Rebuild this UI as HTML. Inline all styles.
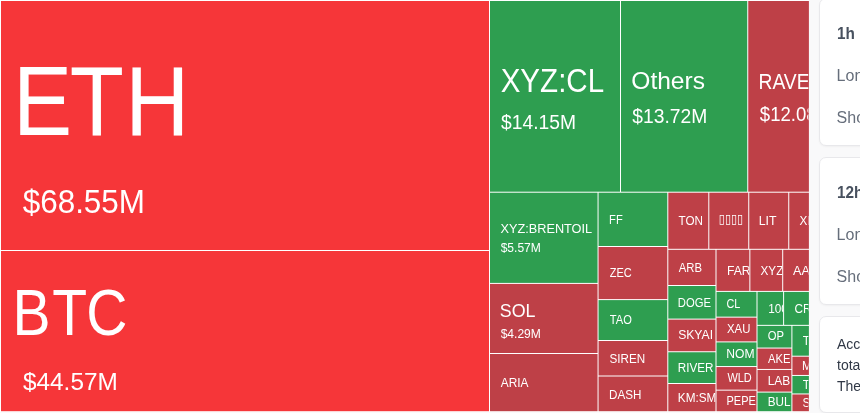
<!DOCTYPE html>
<html lang="en"><head><meta charset="utf-8"><title>Liquidation Heatmap</title>
<style>
html,body{margin:0;padding:0}
body{width:860px;height:413px;overflow:hidden;background:#f9f9fa;position:relative;font-family:'Liberation Sans', sans-serif}
.card{position:absolute;left:819px;width:60px;background:#fff;border:1px solid #e8e8eb;box-shadow:0 1px 2px rgba(0,0,0,.04);border-radius:7px;box-sizing:border-box;overflow:hidden}
.card div{position:absolute;left:16.6px;white-space:nowrap;transform-origin:0 50%}
.t{font-size:17px;line-height:24px;font-weight:700;color:#48515f;transform:scaleX(.9)}
.r{font-size:16px;line-height:24px;color:#666e7b}
.p{left:17px !important;top:16.6px;font-size:14px;line-height:21px;color:#303846}
#stage{position:absolute;left:0;top:0;width:860px;height:413px;will-change:transform}
</style></head><body>
<div id="stage">
<svg width="860" height="413" viewBox="0 0 860 413" style="position:absolute;left:0;top:0">
<defs>
<clipPath id="cETH"><rect x="1.00" y="1.00" width="488.00" height="249.00"/></clipPath>
<clipPath id="cBTC"><rect x="1.00" y="251.00" width="488.00" height="160.20"/></clipPath>
<clipPath id="cXYZCL"><rect x="490.00" y="1.00" width="130.00" height="190.70"/></clipPath>
<clipPath id="cOthers"><rect x="621.00" y="1.00" width="126.25" height="190.70"/></clipPath>
<clipPath id="cRAVE"><rect x="748.25" y="1.00" width="60.15" height="190.70"/></clipPath>
<clipPath id="cBRENT"><rect x="490.00" y="192.70" width="107.55" height="90.20"/></clipPath>
<clipPath id="cSOL"><rect x="490.00" y="283.90" width="107.55" height="69.10"/></clipPath>
<clipPath id="cARIA"><rect x="490.00" y="354.00" width="107.55" height="57.20"/></clipPath>
<clipPath id="cFF"><rect x="598.55" y="192.70" width="68.75" height="53.30"/></clipPath>
<clipPath id="cZEC"><rect x="598.55" y="247.00" width="68.75" height="52.10"/></clipPath>
<clipPath id="cTAO"><rect x="598.55" y="300.10" width="68.75" height="39.90"/></clipPath>
<clipPath id="cSIREN"><rect x="598.55" y="341.00" width="68.75" height="34.50"/></clipPath>
<clipPath id="cDASH"><rect x="598.55" y="376.50" width="68.75" height="34.70"/></clipPath>
<clipPath id="cTON"><rect x="668.30" y="192.70" width="40.00" height="56.10"/></clipPath>
<clipPath id="cTOFU"><rect x="709.30" y="192.70" width="38.95" height="56.10"/></clipPath>
<clipPath id="cLIT"><rect x="749.25" y="192.70" width="39.00" height="56.10"/></clipPath>
<clipPath id="cXRP"><rect x="789.25" y="192.70" width="19.15" height="56.10"/></clipPath>
<clipPath id="cARB"><rect x="668.30" y="249.80" width="47.20" height="35.20"/></clipPath>
<clipPath id="cFART"><rect x="716.50" y="249.80" width="32.85" height="41.10"/></clipPath>
<clipPath id="cXYZ2"><rect x="750.35" y="249.80" width="31.85" height="41.10"/></clipPath>
<clipPath id="cAAVE"><rect x="783.20" y="249.80" width="25.20" height="41.10"/></clipPath>
<clipPath id="cDOGE"><rect x="668.30" y="286.00" width="47.20" height="32.60"/></clipPath>
<clipPath id="cSKYAI"><rect x="668.30" y="319.60" width="47.20" height="31.65"/></clipPath>
<clipPath id="cRIVER"><rect x="668.30" y="352.25" width="47.20" height="30.75"/></clipPath>
<clipPath id="cKM"><rect x="668.30" y="384.00" width="47.20" height="27.20"/></clipPath>
<clipPath id="cCL"><rect x="716.50" y="291.90" width="40.00" height="24.75"/></clipPath>
<clipPath id="cXAU"><rect x="716.50" y="317.65" width="40.00" height="23.75"/></clipPath>
<clipPath id="cNOM"><rect x="716.50" y="342.40" width="40.00" height="23.65"/></clipPath>
<clipPath id="cWLD"><rect x="716.50" y="367.05" width="40.00" height="22.60"/></clipPath>
<clipPath id="cPEPE"><rect x="716.50" y="390.65" width="40.00" height="20.55"/></clipPath>
<clipPath id="cK1000"><rect x="757.50" y="291.90" width="25.60" height="32.95"/></clipPath>
<clipPath id="cCRV"><rect x="784.10" y="291.90" width="24.30" height="32.95"/></clipPath>
<clipPath id="cOP"><rect x="757.50" y="325.85" width="33.90" height="21.70"/></clipPath>
<clipPath id="cAKE"><rect x="757.50" y="348.55" width="33.90" height="20.40"/></clipPath>
<clipPath id="cLAB"><rect x="757.50" y="369.95" width="33.90" height="21.65"/></clipPath>
<clipPath id="cBUL"><rect x="757.50" y="392.60" width="33.90" height="18.60"/></clipPath>
<clipPath id="cT1"><rect x="792.40" y="325.85" width="16.00" height="29.85"/></clipPath>
<clipPath id="cM"><rect x="792.40" y="356.70" width="16.00" height="18.25"/></clipPath>
<clipPath id="cT2"><rect x="792.40" y="375.95" width="16.00" height="17.50"/></clipPath>
<clipPath id="cS"><rect x="792.40" y="394.45" width="16.00" height="16.75"/></clipPath>
</defs>
<rect x="0" y="0" width="808.90" height="412.20" fill="#fff"/>
<rect x="1.00" y="1.00" width="488.00" height="249.00" fill="#f63639"/>
<rect x="1.00" y="251.00" width="488.00" height="160.20" fill="#f63639"/>
<rect x="490.00" y="1.00" width="130.00" height="190.70" fill="#2e9e50"/>
<rect x="621.00" y="1.00" width="126.25" height="190.70" fill="#2e9e50"/>
<rect x="748.25" y="1.00" width="60.65" height="190.70" fill="#be4047"/>
<rect x="490.00" y="192.70" width="107.55" height="90.20" fill="#2e9e50"/>
<rect x="490.00" y="283.90" width="107.55" height="69.10" fill="#be4047"/>
<rect x="490.00" y="354.00" width="107.55" height="57.20" fill="#be4047"/>
<rect x="598.55" y="192.70" width="68.75" height="53.30" fill="#2e9e50"/>
<rect x="598.55" y="247.00" width="68.75" height="52.10" fill="#be4047"/>
<rect x="598.55" y="300.10" width="68.75" height="39.90" fill="#2e9e50"/>
<rect x="598.55" y="341.00" width="68.75" height="34.50" fill="#be4047"/>
<rect x="598.55" y="376.50" width="68.75" height="34.70" fill="#be4047"/>
<rect x="668.30" y="192.70" width="40.00" height="56.10" fill="#be4047"/>
<rect x="709.30" y="192.70" width="38.95" height="56.10" fill="#be4047"/>
<rect x="749.25" y="192.70" width="39.00" height="56.10" fill="#be4047"/>
<rect x="789.25" y="192.70" width="19.65" height="56.10" fill="#be4047"/>
<rect x="668.30" y="249.80" width="47.20" height="35.20" fill="#be4047"/>
<rect x="716.50" y="249.80" width="32.85" height="41.10" fill="#be4047"/>
<rect x="750.35" y="249.80" width="31.85" height="41.10" fill="#be4047"/>
<rect x="783.20" y="249.80" width="25.70" height="41.10" fill="#be4047"/>
<rect x="668.30" y="286.00" width="47.20" height="32.60" fill="#2e9e50"/>
<rect x="668.30" y="319.60" width="47.20" height="31.65" fill="#be4047"/>
<rect x="668.30" y="352.25" width="47.20" height="30.75" fill="#2e9e50"/>
<rect x="668.30" y="384.00" width="47.20" height="27.20" fill="#be4047"/>
<rect x="716.50" y="291.90" width="40.00" height="24.75" fill="#2e9e50"/>
<rect x="716.50" y="317.65" width="40.00" height="23.75" fill="#be4047"/>
<rect x="716.50" y="342.40" width="40.00" height="23.65" fill="#2e9e50"/>
<rect x="716.50" y="367.05" width="40.00" height="22.60" fill="#be4047"/>
<rect x="716.50" y="390.65" width="40.00" height="20.55" fill="#be4047"/>
<rect x="757.50" y="291.90" width="25.60" height="32.95" fill="#2e9e50"/>
<rect x="784.10" y="291.90" width="24.80" height="32.95" fill="#2e9e50"/>
<rect x="757.50" y="325.85" width="33.90" height="21.70" fill="#2e9e50"/>
<rect x="757.50" y="348.55" width="33.90" height="20.40" fill="#be4047"/>
<rect x="757.50" y="369.95" width="33.90" height="21.65" fill="#be4047"/>
<rect x="757.50" y="392.60" width="33.90" height="18.60" fill="#2e9e50"/>
<rect x="792.40" y="325.85" width="16.50" height="29.85" fill="#2e9e50"/>
<rect x="792.40" y="356.70" width="16.50" height="18.25" fill="#be4047"/>
<rect x="792.40" y="375.95" width="16.50" height="17.50" fill="#2e9e50"/>
<rect x="792.40" y="394.45" width="16.50" height="16.75" fill="#be4047"/>
<g clip-path="url(#cETH)"><text transform="translate(12.90,135.25) scale(0.8944,1)" font-family="'Liberation Sans', sans-serif" font-size="99.20" dx="0.00 -2.46 1.34" fill="#fff">ETH</text></g>
<g clip-path="url(#cETH)"><text transform="translate(22.69,213.00) scale(0.9616,1)" font-family="'Liberation Sans', sans-serif" font-size="32.70" fill="#fff">$68.55M</text></g>
<g clip-path="url(#cBTC)"><text transform="translate(12.44,334.50) scale(0.8920,1)" font-family="'Liberation Sans', sans-serif" font-size="63.95" dx="0.00 2.02 -0.90" fill="#fff">BTC</text></g>
<g clip-path="url(#cBTC)"><text transform="translate(23.01,390.00) scale(0.9969,1)" font-family="'Liberation Sans', sans-serif" font-size="24.42" fill="#fff">$44.57M</text></g>
<g clip-path="url(#cXYZCL)"><text transform="translate(500.66,92.00) scale(0.9040,1)" font-family="'Liberation Sans', sans-serif" font-size="32.70" fill="#fff">XYZ:CL</text></g>
<g clip-path="url(#cXYZCL)"><text transform="translate(501.06,129.00) scale(0.9340,1)" font-family="'Liberation Sans', sans-serif" font-size="20.64" fill="#fff">$14.15M</text></g>
<g clip-path="url(#cOthers)"><text transform="translate(631.27,88.75) scale(1.0403,1)" font-family="'Liberation Sans', sans-serif" font-size="23.62" fill="#fff">Others</text></g>
<g clip-path="url(#cOthers)"><text transform="translate(632.31,123.00) scale(0.9340,1)" font-family="'Liberation Sans', sans-serif" font-size="20.64" fill="#fff">$13.72M</text></g>
<g clip-path="url(#cRAVE)"><text transform="translate(758.46,89.25) scale(0.9000,1)" font-family="'Liberation Sans', sans-serif" font-size="21.44" fill="#fff">RAVE</text></g>
<g clip-path="url(#cRAVE)"><text transform="translate(759.81,121.00) scale(0.9000,1)" font-family="'Liberation Sans', sans-serif" font-size="20.64" fill="#fff">$12.08M</text></g>
<g clip-path="url(#cBRENT)"><text transform="translate(500.50,233.00) scale(0.9466,1)" font-family="'Liberation Sans', sans-serif" font-size="13.44" fill="#fff">XYZ:BRENTOIL</text></g>
<g clip-path="url(#cBRENT)"><text transform="translate(500.63,252.00) scale(0.9775,1)" font-family="'Liberation Sans', sans-serif" font-size="12.35" fill="#fff">$5.57M</text></g>
<g clip-path="url(#cSOL)"><text transform="translate(499.86,316.75) scale(0.9441,1)" font-family="'Liberation Sans', sans-serif" font-size="18.90" fill="#fff">SOL</text></g>
<g clip-path="url(#cSOL)"><text transform="translate(500.63,338.00) scale(0.9775,1)" font-family="'Liberation Sans', sans-serif" font-size="12.35" fill="#fff">$4.29M</text></g>
<g clip-path="url(#cARIA)"><text transform="translate(500.75,387.45) scale(0.9104,1)" font-family="'Liberation Sans', sans-serif" font-size="13.08" fill="#fff">ARIA</text></g>
<g clip-path="url(#cFF)"><text transform="translate(609.11,223.70) scale(0.8513,1)" font-family="'Liberation Sans', sans-serif" font-size="13.08" fill="#fff">FF</text></g>
<g clip-path="url(#cZEC)"><text transform="translate(609.67,277.20) scale(0.8417,1)" font-family="'Liberation Sans', sans-serif" font-size="13.08" fill="#fff">ZEC</text></g>
<g clip-path="url(#cTAO)"><text transform="translate(609.78,324.20) scale(0.8505,1)" font-family="'Liberation Sans', sans-serif" font-size="13.08" fill="#fff">TAO</text></g>
<g clip-path="url(#cSIREN)"><text transform="translate(609.42,362.95) scale(0.8936,1)" font-family="'Liberation Sans', sans-serif" font-size="13.08" fill="#fff">SIREN</text></g>
<g clip-path="url(#cDASH)"><text transform="translate(609.07,398.95) scale(0.8899,1)" font-family="'Liberation Sans', sans-serif" font-size="13.08" fill="#fff">DASH</text></g>
<g clip-path="url(#cTON)"><text transform="translate(678.52,224.70) scale(0.8931,1)" font-family="'Liberation Sans', sans-serif" font-size="13.08" fill="#fff">TON</text></g>
<g clip-path="url(#cTOFU)"><text transform="translate(718.81,223.08) scale(0.8926,1)" font-family="'DejaVu Sans', sans-serif" font-size="12.37" fill="#fff">▯▯▯▯</text></g>
<g clip-path="url(#cLIT)"><text transform="translate(758.76,224.70) scale(0.9441,1)" font-family="'Liberation Sans', sans-serif" font-size="13.08" fill="#fff">LIT</text></g>
<g clip-path="url(#cXRP)"><text transform="translate(799.46,224.70) scale(0.9000,1)" font-family="'Liberation Sans', sans-serif" font-size="13.08" fill="#fff">XRP</text></g>
<g clip-path="url(#cARB)"><text transform="translate(678.75,271.95) scale(0.8652,1)" font-family="'Liberation Sans', sans-serif" font-size="13.08" fill="#fff">ARB</text></g>
<g clip-path="url(#cFART)"><text transform="translate(726.93,274.80) scale(0.9300,1)" font-family="'Liberation Sans', sans-serif" font-size="13.08" fill="#fff">FARTCOIN</text></g>
<g clip-path="url(#cXYZ2)"><text transform="translate(760.46,274.80) scale(0.9000,1)" font-family="'Liberation Sans', sans-serif" font-size="13.08" fill="#fff">XYZ:GOLD</text></g>
<g clip-path="url(#cAAVE)"><text transform="translate(793.10,274.80) scale(0.9600,1)" font-family="'Liberation Sans', sans-serif" font-size="13.08" fill="#fff">AAVE</text></g>
<g clip-path="url(#cDOGE)"><text transform="translate(677.85,306.95) scale(0.8607,1)" font-family="'Liberation Sans', sans-serif" font-size="13.08" fill="#fff">DOGE</text></g>
<g clip-path="url(#cSKYAI)"><text transform="translate(678.14,339.45) scale(0.9311,1)" font-family="'Liberation Sans', sans-serif" font-size="13.08" fill="#fff">SKYAI</text></g>
<g clip-path="url(#cRIVER)"><text transform="translate(677.81,371.95) scale(0.8936,1)" font-family="'Liberation Sans', sans-serif" font-size="13.08" fill="#fff">RIVER</text></g>
<g clip-path="url(#cKM)"><text transform="translate(677.81,401.80) scale(0.9000,1)" font-family="'Liberation Sans', sans-serif" font-size="13.08" fill="#fff">KM:SMALL2000</text></g>
<g clip-path="url(#cCL)"><text transform="translate(726.46,307.70) scale(0.8281,1)" font-family="'Liberation Sans', sans-serif" font-size="13.08" fill="#fff">CL</text></g>
<g clip-path="url(#cXAU)"><text transform="translate(726.97,333.20) scale(0.8698,1)" font-family="'Liberation Sans', sans-serif" font-size="13.08" fill="#fff">XAU</text></g>
<g clip-path="url(#cNOM)"><text transform="translate(726.23,357.95) scale(0.9265,1)" font-family="'Liberation Sans', sans-serif" font-size="13.08" fill="#fff">NOM</text></g>
<g clip-path="url(#cWLD)"><text transform="translate(727.40,381.50) scale(0.8381,1)" font-family="'Liberation Sans', sans-serif" font-size="13.08" fill="#fff">WLD</text></g>
<g clip-path="url(#cPEPE)"><text transform="translate(726.52,405.20) scale(0.8394,1)" font-family="'Liberation Sans', sans-serif" font-size="13.08" fill="#fff">PEPE</text></g>
<g clip-path="url(#cK1000)"><text transform="translate(768.18,312.60) scale(0.9000,1)" font-family="'Liberation Sans', sans-serif" font-size="13.08" fill="#fff">1000BONK</text></g>
<g clip-path="url(#cCRV)"><text transform="translate(794.41,312.60) scale(0.9000,1)" font-family="'Liberation Sans', sans-serif" font-size="13.08" fill="#fff">CRV</text></g>
<g clip-path="url(#cOP)"><text transform="translate(767.64,340.45) scale(0.8614,1)" font-family="'Liberation Sans', sans-serif" font-size="13.08" fill="#fff">OP</text></g>
<g clip-path="url(#cAKE)"><text transform="translate(768.00,363.20) scale(0.8580,1)" font-family="'Liberation Sans', sans-serif" font-size="13.08" fill="#fff">AKE</text></g>
<g clip-path="url(#cLAB)"><text transform="translate(767.65,385.20) scale(0.9121,1)" font-family="'Liberation Sans', sans-serif" font-size="13.08" fill="#fff">LAB</text></g>
<g clip-path="url(#cBUL)"><text transform="translate(767.66,406.45) scale(0.8939,1)" font-family="'Liberation Sans', sans-serif" font-size="13.08" fill="#fff">BUL</text></g>
<g clip-path="url(#cT1)"><text transform="translate(802.76,345.10) scale(0.9000,1)" font-family="'Liberation Sans', sans-serif" font-size="13.08" fill="#fff">TRX</text></g>
<g clip-path="url(#cM)"><text transform="translate(802.06,369.95) scale(0.9000,1)" font-family="'Liberation Sans', sans-serif" font-size="13.08" fill="#fff">MNT</text></g>
<g clip-path="url(#cT2)"><text transform="translate(802.76,388.95) scale(0.9000,1)" font-family="'Liberation Sans', sans-serif" font-size="13.08" fill="#fff">TIA</text></g>
<g clip-path="url(#cS)"><text transform="translate(802.41,407.20) scale(0.9000,1)" font-family="'Liberation Sans', sans-serif" font-size="13.08" fill="#fff">SUI</text></g>
</svg>

<div class="card" style="top:-2px;height:148px"><div class="t" style="top:23.2px">1h</div><div class="r" style="top:64.8px">Long</div><div class="r" style="top:106.7px">Short</div></div>
<div class="card" style="top:157px;height:148px"><div class="t" style="top:23.2px">12h</div><div class="r" style="top:64.8px">Long</div><div class="r" style="top:106.7px">Short</div></div>
<div class="card" style="top:316px;height:96.5px"><div class="p">According to the<br>total liquidations<br>The largest single</div></div>

</div>
</body></html>
